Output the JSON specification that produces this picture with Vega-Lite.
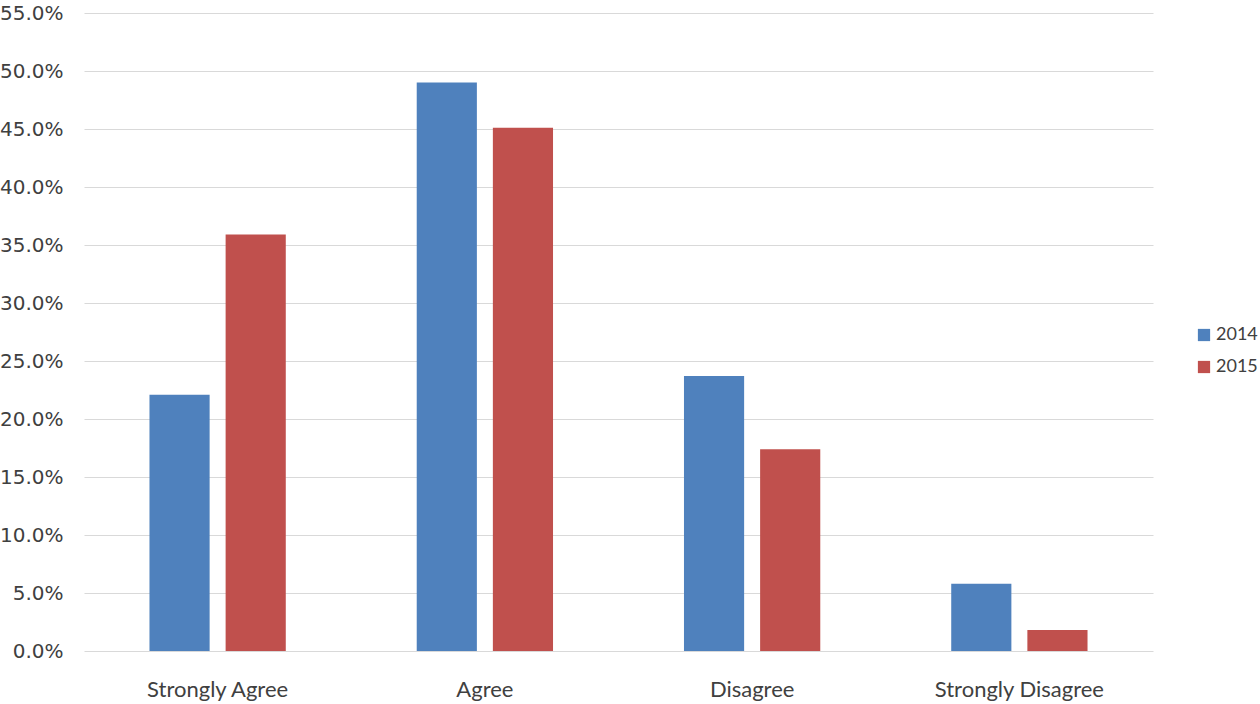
{
  "$schema": "https://vega.github.io/schema/vega-lite/v6.json",
  "width": 1069,
  "height": 638,
  "autosize": {"type": "none"},
  "padding": {"left": 84, "top": 13, "right": 107, "bottom": 53},
  "background": "white",
  "data": {
    "values": [
      {"response": "Strongly Agree", "year": "2014", "pct": 0.221},
      {"response": "Strongly Agree", "year": "2015", "pct": 0.359},
      {"response": "Agree", "year": "2014", "pct": 0.490},
      {"response": "Agree", "year": "2015", "pct": 0.451},
      {"response": "Disagree", "year": "2014", "pct": 0.237},
      {"response": "Disagree", "year": "2015", "pct": 0.174},
      {"response": "Strongly Disagree", "year": "2014", "pct": 0.058},
      {"response": "Strongly Disagree", "year": "2015", "pct": 0.018}
    ]
  },
  "mark": {"type": "bar"},
  "encoding": {
    "x": {
      "field": "response",
      "type": "nominal",
      "sort": ["Strongly Agree", "Agree", "Disagree", "Strongly Disagree"],
      "scale": {"paddingInner": 0.49, "paddingOuter": 0.245},
      "axis": {
        "title": null,
        "labelAngle": 0,
        "domain": false,
        "ticks": false,
        "labelFont": "Lato",
        "labelFontSize": 22,
        "labelColor": "#404040",
        "labelPadding": 28
      }
    },
    "xOffset": {
      "field": "year",
      "type": "nominal",
      "scale": {"paddingInner": 0.21, "paddingOuter": 0}
    },
    "y": {
      "field": "pct",
      "type": "quantitative",
      "scale": {"domain": [0, 0.55], "nice": false},
      "axis": {
        "title": null,
        "format": ".1%",
        "values": [0, 0.05, 0.1, 0.15, 0.2, 0.25, 0.3, 0.35, 0.4, 0.45, 0.5, 0.55],
        "domain": false,
        "ticks": false,
        "labelFont": "DejaVu Sans",
        "labelFontSize": 20,
        "labelColor": "#404040",
        "labelPadding": 21,
        "gridColor": "#d9d9d9",
        "gridWidth": 1
      }
    },
    "color": {
      "field": "year",
      "type": "nominal",
      "scale": {"domain": ["2014", "2015"], "range": ["#4F81BD", "#C0504D"]},
      "legend": {
        "title": null,
        "orient": "none",
        "legendX": 1111,
        "legendY": 313,
        "symbolType": "square",
        "symbolSize": 150,
        "symbolStrokeWidth": 0,
        "labelFont": "Lato",
        "labelFontSize": 18,
        "labelColor": "#404040",
        "rowPadding": 14,
        "labelOffset": 3
      }
    }
  },
  "config": {
    "view": {"stroke": null}
  }
}
